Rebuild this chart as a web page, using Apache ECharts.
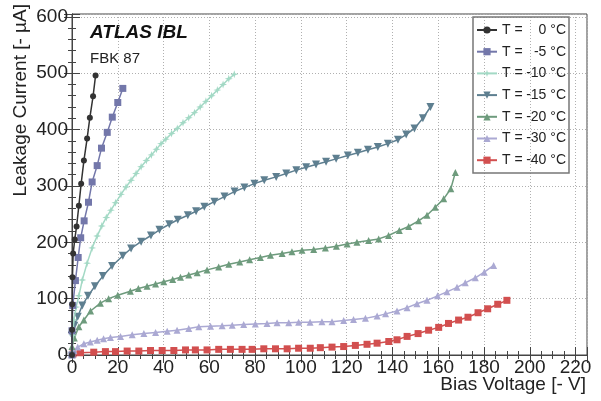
<!DOCTYPE html>
<html>
<head>
<meta charset="utf-8">
<script src="https://cdn.jsdelivr.net/npm/echarts@6/dist/echarts.min.js"></script>
<style>
  html, body { margin: 0; padding: 0; background: #fff; }
  #chart { width: 601px; height: 401px; }
</style>
</head>
<body>
<div id="chart"></div>
<script>
// [bias voltage (-V), leakage current (-uA)]
const t0 = [[0,0],[0.05,45],[0.1,90],[0.2,138],[0.5,180],[1.2,205],[2,228],[3,265],[4,304],[5.2,345],[6.6,384],[7.8,421],[9.2,459],[10.3,496]];
const tm5 = [[0,0],[0,43],[0.35,88],[1.5,132],[2.7,173],[3.8,208],[5.3,238],[7.2,271],[8.8,307],[11,336],[12.9,367],[15.4,395],[17.6,422],[20,448],[22.2,473]];
const tm10 = [[0,5],[0.4,35],[0.8,62],[1.8,85],[3,105],[4.5,133],[6.6,163],[8.8,190],[11,211],[13,229],[15,244],[17,257],[19,270],[21.4,285],[23.6,298],[25.8,310],[28,322],[30.2,334],[32.5,345],[34.7,355],[36.9,365],[38.9,375],[41,383],[43.5,393],[46,402],[48.5,412],[51,421],[53.5,430],[56,440],[58.5,450],[61,460],[63.5,470],[66,480],[68.5,490],[70.9,498]];
const tm15 = [[0,35],[1,52],[2.5,68],[4.5,88],[7,105],[10,122],[13.5,140],[17.5,158],[22.2,176],[25.8,189],[30.2,201],[34.5,212],[38.2,222],[42.5,232],[46.2,240],[50.6,248],[54.2,255],[57.8,263],[62.2,272],[66.6,281],[71,290],[75.3,297],[79.7,304],[84,310],[89.2,316],[93.6,322],[98,328],[102.3,333],[106.6,338],[111,343],[115.4,348],[120.5,354],[124.9,359],[129.3,364],[133.6,369],[138,375],[142.4,382],[146,391],[149.6,402],[153.3,420],[156.6,440]];
const tm20 = [[0,15],[1,30],[3,50],[5.2,62],[8.1,78],[12.4,92],[16,100],[20,106],[25.5,113],[29,118],[32.8,122],[36.5,126],[40.1,130],[44,134],[47.4,138],[51,142],[54.7,146],[59,151],[64.1,156],[68.5,161],[73.3,165],[77.6,169],[82.3,173],[86.7,177],[91.8,180],[96.1,183],[100.5,186],[105.6,187],[110.7,190],[115.5,193],[120.2,197],[124.5,200],[129.6,203],[134,206],[138.3,212],[143,221],[147.1,228],[151.4,238],[155.1,248],[158.7,262],[162.4,277],[165.5,295],[167.5,324]];
const tm30 = [[0,2],[0.8,8],[2.5,14],[5.2,20],[8,23],[11,26],[13.8,29],[16.8,31],[21.2,33],[26.3,36],[31.4,38],[36.5,40],[41.6,42],[45.9,44],[51,47],[55.4,50],[60.5,51],[65.6,52],[70,53],[75,54],[80.1,55],[85.2,56],[89.6,57],[94.7,57],[99,58],[104,58],[109.2,59],[113.6,59],[118.7,61],[123,63],[128.2,65],[133.3,69],[137,73],[142,78],[146.4,84],[150.7,91],[155.1,97],[159.7,105],[163.8,112],[168.2,120],[171.8,128],[176.2,137],[180.1,147],[184.2,159]];
const tm40 = [[0.5,2],[3.7,4],[9.5,5],[14.6,6],[19,6],[24.1,7],[29.2,7],[34.3,8],[39.4,8],[44.5,8],[49.6,9],[53.9,9],[59,9],[64.1,10],[69.2,10],[74.3,10],[78.7,10],[83.8,11],[88.9,11],[94,11],[99,12],[104.1,12],[108.5,13],[113.6,14],[118.7,15],[123.8,17],[128.9,19],[133.3,21],[138.4,24],[142,27],[146.4,33],[151.2,38],[155.8,44],[160.2,49],[164.5,56],[168.9,62],[173,67],[177.4,75],[181.6,82],[186,90],[190,97]];

const names = ['T = 0 °C', 'T = -5 °C', 'T = -10 °C', 'T = -15 °C', 'T = -20 °C', 'T = -30 °C', 'T = -40 °C'];
const colors = ['#333333', '#7377aa', '#a3d9c5', '#5e7f90', '#6e9b7d', '#aba9d3', '#d24f4f'];

const star = 'path://M5,0 L6.2,3.8 L10,5 L6.2,6.2 L5,10 L3.8,6.2 L0,5 L3.8,3.8 Z';
const styles = [
  { symbol: 'circle', size: 6, rot: 0 },
  { symbol: 'rect', size: 7, rot: 0 },
  { symbol: star, size: 8, rot: 0 },
  { symbol: 'triangle', size: 8, rot: 180 },
  { symbol: 'triangle', size: 7, rot: 0 },
  { symbol: 'triangle', size: 7, rot: 0 },
  { symbol: 'rect', size: 7, rot: 0 }
];
const seriesData = [t0, tm5, tm10, tm15, tm20, tm30, tm40];

const FONT = 'Liberation Sans';
const chart = echarts.init(document.getElementById('chart'));

const hideOdd = step => v => (Math.round(v) % step === 0 ? String(Math.round(v)) : '');

const mainX = {
  type: 'value', min: 0, max: 225, interval: 20, position: 'bottom',
  axisLine: { show: true, lineStyle: { color: '#444', width: 1 } },
  axisTick: { show: true, inside: true, length: 8, lineStyle: { color: '#444' } },
  minorTick: { show: true, splitNumber: 4, length: 4, lineStyle: { color: '#444' } },
  axisLabel: { color: '#222', fontSize: 19, fontFamily: FONT, margin: 3, formatter: hideOdd(20) },
  splitLine: { show: true, lineStyle: { color: '#b0b0b0', type: [1, 2], width: 1 } }
};
const mainY = {
  type: 'value', min: 0, max: 605, interval: 100, position: 'left',
  axisLine: { show: true, lineStyle: { color: '#444', width: 1 } },
  axisTick: { show: true, inside: true, length: 8, lineStyle: { color: '#444' } },
  minorTick: { show: true, splitNumber: 5, length: 4, lineStyle: { color: '#444' } },
  axisLabel: { color: '#222', fontSize: 19, fontFamily: FONT, margin: 4, formatter: hideOdd(100) },
  splitLine: { show: true, lineStyle: { color: '#b0b0b0', type: [1, 2], width: 1 } }
};

chart.setOption({
  animation: false,
  backgroundColor: '#fff',
  grid: { left: 72, right: 14, top: 14, bottom: 46, show: true, borderColor: '#444', borderWidth: 1 },
  xAxis: [
    mainX,
    Object.assign({}, mainX, { position: 'top', axisLabel: { show: false }, splitLine: { show: false } })
  ],
  yAxis: [
    mainY,
    Object.assign({}, mainY, { position: 'right', axisLabel: { show: false }, splitLine: { show: false } })
  ],
  legend: {
    orient: 'vertical',
    left: 476, top: 23,
    padding: 0,
    itemWidth: 20, itemHeight: 9, itemGap: 7.7,
    data: names,
    formatter: n => '{a|T =}{b|' + n.split('= ')[1] + '}',
    textStyle: {
      fontFamily: FONT, fontSize: 14, color: '#222', lineHeight: 14,
      rich: {
        a: { fontFamily: FONT, fontSize: 14, color: '#222', width: 22 },
        b: { fontFamily: FONT, fontSize: 14, color: '#222', width: 42, align: 'right' }
      }
    }
  },
  series: seriesData.map((d, i) => ({
    name: names[i],
    type: 'line',
    data: d,
    xAxisIndex: 0, yAxisIndex: 0,
    symbol: styles[i].symbol,
    symbolSize: styles[i].size,
    symbolRotate: styles[i].rot,
    showAllSymbol: true,
    lineStyle: { color: colors[i], width: 1.5 },
    itemStyle: { color: colors[i] },
    z: 10 - i
  })),
  graphic: [
    { type: 'rect', x: 473, y: 17, z: 50, shape: { width: 96, height: 156 },
      style: { fill: 'rgba(255,255,255,0)', stroke: '#777', lineWidth: 1.5 }, silent: true },
    { type: 'text', left: 90, top: 23, style: { text: 'ATLAS IBL', font: 'italic bold 19px "Liberation Sans"', fill: '#111' } },
    { type: 'text', left: 90, top: 51, style: { text: 'FBK 87', font: '15px "Liberation Sans"', fill: '#222' } },
    { type: 'text', x: 21, y: 4, rotation: Math.PI / 2,
      style: { text: 'Leakage Current [- µA]', font: '19px "Liberation Sans"', fill: '#222', textAlign: 'right', textVerticalAlign: 'middle' } },
    { type: 'text', x: 586, y: 385,
      style: { text: 'Bias Voltage [- V]', font: '19px "Liberation Sans"', fill: '#222', textAlign: 'right', textVerticalAlign: 'middle' } }
  ]
});
</script>
</body>
</html>
